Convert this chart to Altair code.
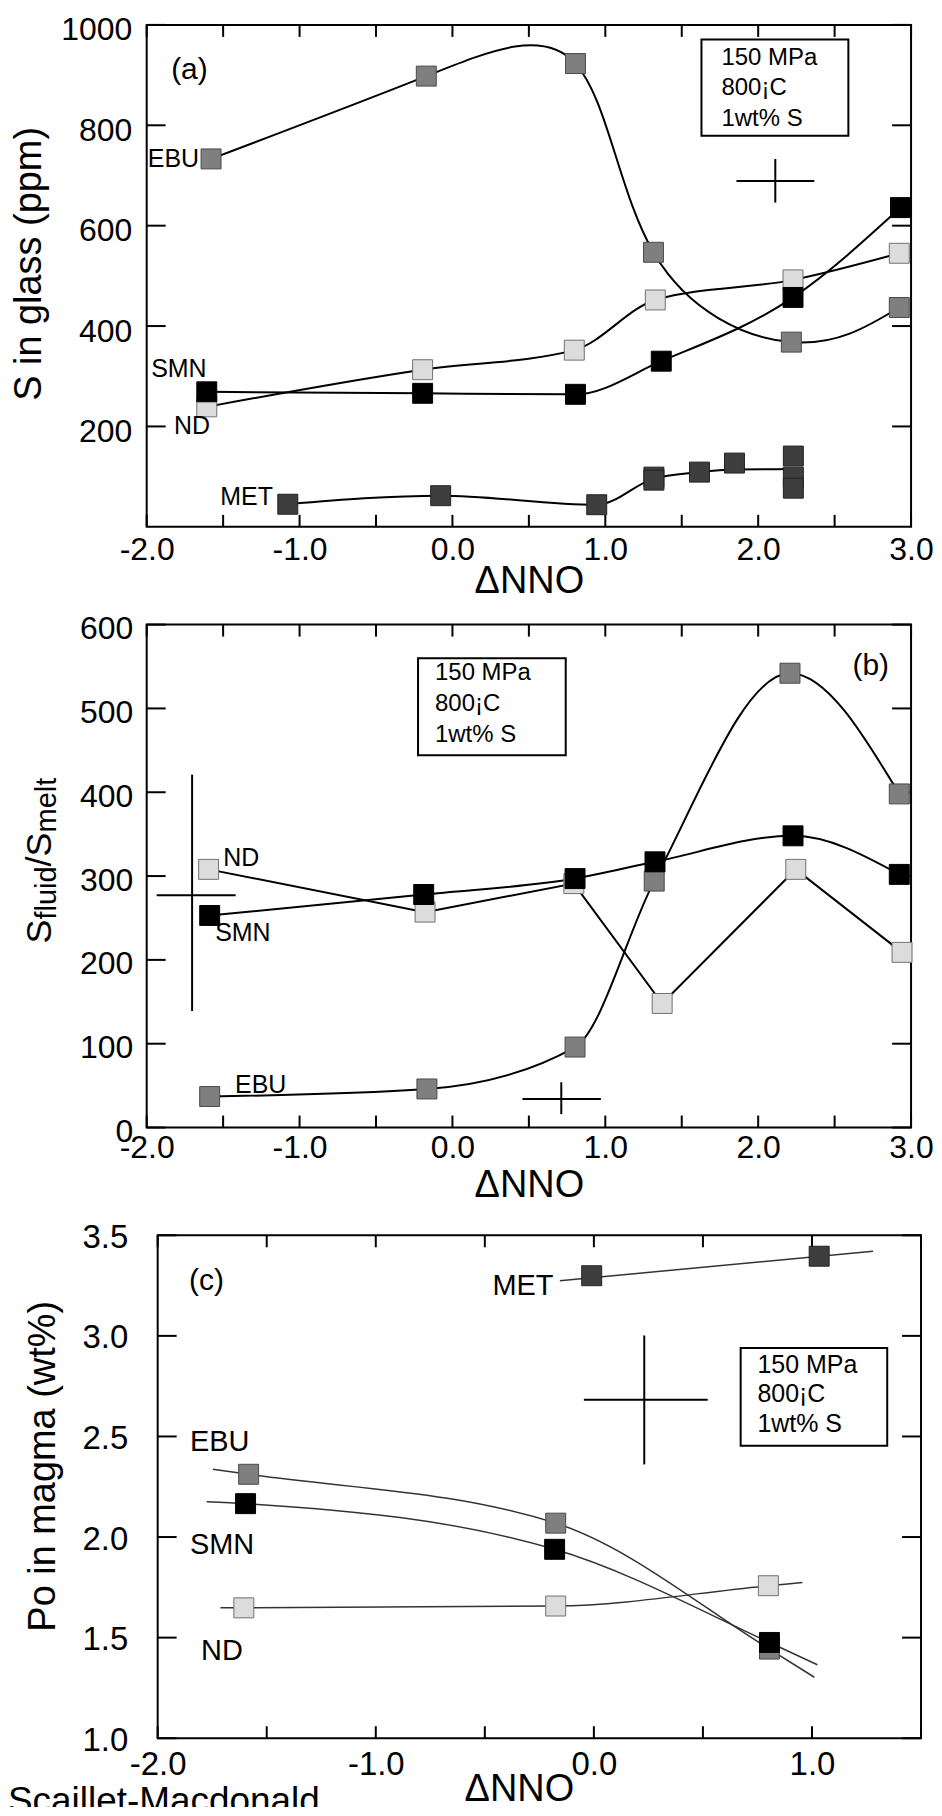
import altair as alt
import pandas as pd

FONT = "Liberation Sans"

# ---------------- Panel (a): S in glass (ppm) ----------------
a_ebu_x = [-1.579, -0.171, 0.805, 1.315, 2.217, 2.923]
a_ebu_y = [733, 898, 923, 547, 368, 437]
a_smn_x = [-1.607, -0.195, 0.805, 1.366, 2.228, 2.931]
a_smn_y = [269, 266, 264, 330, 457, 636]
a_nd_x = [-1.607, -0.195, 0.797, 1.327, 2.228, 2.923]
a_nd_y = [239, 313, 352, 452, 492, 545]
a_met_x = [-1.077, -0.077, 0.944, 1.318, 1.318, 1.616, 1.845, 2.230, 2.230, 2.230]
a_met_y = [45, 62, 44, 99, 93, 109, 127, 141, 99, 77]
a_met_curve_x = [-1.077, -0.077, 0.944, 1.318, 1.616, 1.845, 2.230]
a_met_curve_y = [45, 62, 44, 96, 109, 114, 115]
a_err = dict(cx=[2.112], cy=[689], x1=[1.858], x2=[2.367], y1=[646], y2=[733])
a_box = dict(x1=[1.629], x2=[2.590], y1=[779], y2=[971])
a_box_text_x = 1.760
a_box_text_y = [934, 874, 813]
a_label_text = ["EBU", "SMN", "ND", "MET", "(a)"]
a_label_x = [-1.993, -1.971, -1.821, -1.519, -1.840]
a_label_y = [733, 314, 200, 60, 910]

# ---------------- Panel (b): Sfluid/Smelt ----------------
b_ebu_x = [-1.588, -0.167, 0.802, 1.320, 2.208, 2.923]
b_ebu_y = [37, 46, 96, 294, 542, 398]
b_smn_x = [-1.588, -0.188, 0.802, 1.325, 2.228, 2.923]
b_smn_y = [253, 278, 297, 317, 348, 302]
b_nd_x = [-1.595, -0.179, 0.794, 1.372, 2.246, 2.941]
b_nd_y = [308, 257, 291, 148, 308, 209]
b_err = dict(cx=[-1.703, 0.712], cy=[277, 34], x1=[-1.935, 0.458], x2=[-1.418, 0.971],
             y1=[139, 16], y2=[421, 54])
b_box = dict(x1=[-0.225], x2=[0.741], y1=[444], y2=[560])
b_box_text_x = -0.114
b_box_text_y = [542, 505, 468]
b_label_text = ["ND", "SMN", "EBU", "(b)"]
b_label_x = [-1.500, -1.552, -1.422, 2.617]
b_label_y = [321, 232, 51, 551]

# ---------------- Panel (c): Po in magma (wt%) ----------------
c_ebu_x = [-1.583, -0.175, 0.805]
c_ebu_y = [2.312, 2.069, 1.443]
c_smn_x = [-1.597, -0.180, 0.805]
c_smn_y = [2.166, 1.939, 1.476]
c_nd_x = [-1.605, -0.175, 0.800]
c_nd_y = [1.648, 1.657, 1.758]
c_met_x = [-0.010, 1.033]
c_met_y = [3.299, 3.396]
c_ebu_curve_x = [-1.747, -1.583, -0.175, 0.805, 1.011]
c_ebu_curve_y = [2.337, 2.312, 2.069, 1.443, 1.303]
c_smn_curve_x = [-1.775, -1.597, -0.180, 0.805, 1.025]
c_smn_curve_y = [2.176, 2.166, 1.939, 1.476, 1.365]
c_nd_curve_x = [-1.712, -1.605, -0.175, 0.800, 0.956]
c_nd_curve_y = [1.648, 1.648, 1.657, 1.758, 1.774]
c_met_curve_x = [-0.156, 1.280]
c_met_curve_y = [3.274, 3.421]
c_err = dict(cx=[0.231], cy=[2.683], x1=[-0.046], x2=[0.522], y1=[2.361], y2=[3.002])
c_box = dict(x1=[0.673], x2=[1.345], y1=[2.454], y2=[2.940])
c_box_text_x = 0.750
c_box_text_y = [2.857, 2.709, 2.560]
c_label_text = ["MET", "EBU", "SMN", "ND", "(c)"]
c_label_x = [-0.465, -1.852, -1.852, -1.801, -1.856]
c_label_y = [3.250, 2.471, 1.962, 1.433, 3.275]

box_lines = ["150 MPa", "800¡C", "1wt% S"]

ORDER = ["MET", "EBU", "ND", "SMN"]
FILL = {"MET": "#3e3e3e", "EBU": "#7f7f7f", "ND": "#dcdcdc", "SMN": "#000000"}
EDGE = {"MET": "#222222", "EBU": "#4a4a4a", "ND": "#707070", "SMN": "#000000"}


def points_df(series):
    rows = []
    for name in ORDER:
        if name in series:
            xs, ys = series[name]
            for xv, yv in zip(xs, ys):
                rows.append({"x": xv, "y": yv, "s": name})
    return pd.DataFrame(rows)


def build_panel(w, h, x0, xdom, ydom, xticks, yticks, xaxis_kw, yaxis_kw,
                pts, lines, err, box, box_tx, box_ty, box_fs,
                labels, label_fs, tag_fs, line_color, line_w, err_w,
                anchor, extra=()):
    sx = alt.Scale(domain=xdom, range=[x0, w], nice=False, zero=False)
    sy = alt.Scale(domain=ydom, nice=False, zero=False)
    XA = alt.Axis(values=xticks, ticks=False, domain=False, grid=False,
                  labelFlush=False, labelOverlap=False, labelFont=FONT, labelColor="black",
                  labelExpr="datum.value % 1 === 0 ? (datum.value < 0 ? '-' : '') + format(abs(datum.value), '.1f') : ''",
                  titleFont=FONT, titleFontWeight="normal", titleColor="black",
                  titleBaseline="alphabetic", title="ΔNNO", **xaxis_kw)
    YA = alt.Axis(values=yticks, ticks=False, domain=False, grid=False,
                  labelOverlap=False, labelFont=FONT, labelColor="black",
                  titleFont=FONT, titleFontWeight="normal", titleColor="black", **yaxis_kw)

    def X(f):
        return alt.X(f, type="quantitative", scale=sx, axis=XA)

    def Y(f):
        return alt.Y(f, type="quantitative", scale=sy, axis=YA)

    one = pd.DataFrame({"k": [0]})
    layers = []
    L, T, B = anchor
    # invisible layout anchor fixing the panel's outer extent
    layers.append(alt.Chart(one).mark_rule(opacity=0, strokeWidth=1).encode(
        x=alt.value(-L), y=alt.value(-T), y2=alt.value(h + B)))
    # frame
    layers.append(alt.Chart(one).mark_rect(fillOpacity=0, stroke="black", strokeWidth=2).encode(
        x=alt.value(x0), x2=alt.value(w), y=alt.value(0), y2=alt.value(h)))
    # inward ticks on all four sides
    tx = pd.DataFrame({"v": xticks})
    ty = pd.DataFrame({"v": yticks})
    layers.append(alt.Chart(tx).mark_rule(color="black", strokeWidth=2).encode(
        x=X("v"), y=alt.value(h), y2=alt.value(h - 12)))
    layers.append(alt.Chart(tx).mark_rule(color="black", strokeWidth=2).encode(
        x=X("v"), y=alt.value(0), y2=alt.value(12)))
    layers.append(alt.Chart(ty).mark_rule(color="black", strokeWidth=2).encode(
        y=Y("v"), x=alt.value(x0), x2=alt.value(x0 + 19)))
    layers.append(alt.Chart(ty).mark_rule(color="black", strokeWidth=2).encode(
        y=Y("v"), x=alt.value(w), x2=alt.value(w - 19)))
    for xs, ys, interp in lines:
        df = pd.DataFrame({"x": xs, "y": ys})
        layers.append(alt.Chart(df).mark_line(interpolate=interp, color=line_color,
                                              strokeWidth=line_w).encode(x=X("x"), y=Y("y")))
    edf = pd.DataFrame(err)
    layers.append(alt.Chart(edf).mark_rule(color="black", strokeWidth=err_w).encode(
        x=X("x1"), x2="x2", y=Y("cy")))
    layers.append(alt.Chart(edf).mark_rule(color="black", strokeWidth=err_w).encode(
        x=X("cx"), y=Y("y1"), y2="y2"))
    layers.append(alt.Chart(pd.DataFrame(box)).mark_rect(
        fill="white", stroke="black", strokeWidth=2).encode(
        x=X("x1"), x2="x2", y=Y("y1"), y2="y2"))
    tdf = pd.DataFrame({"t": box_lines, "x": [box_tx] * 3, "y": box_ty})
    layers.append(alt.Chart(tdf).mark_text(align="left", baseline="middle", font=FONT,
                                           fontSize=box_fs, color="black").encode(
        x=X("x"), y=Y("y"), text="t:N"))
    pdf = points_df(pts)
    layers.append(alt.Chart(pdf).mark_square(size=400, strokeWidth=1, opacity=1).encode(
        x=X("x"), y=Y("y"),
        fill=alt.Fill("s:N", scale=alt.Scale(domain=ORDER, range=[FILL[k] for k in ORDER]), legend=None),
        stroke=alt.Stroke("s:N", scale=alt.Scale(domain=ORDER, range=[EDGE[k] for k in ORDER]), legend=None)))
    ltext, lx, ly = labels
    ldf = pd.DataFrame({"t": ltext[:-1], "x": lx[:-1], "y": ly[:-1]})
    layers.append(alt.Chart(ldf).mark_text(align="left", baseline="middle", font=FONT,
                                           fontSize=label_fs, color="black").encode(
        x=X("x"), y=Y("y"), text="t:N"))
    gdf = pd.DataFrame({"t": ltext[-1:], "x": lx[-1:], "y": ly[-1:]})
    layers.append(alt.Chart(gdf).mark_text(align="left", baseline="middle", font=FONT,
                                           fontSize=tag_fs, color="black").encode(
        x=X("x"), y=Y("y"), text="t:N"))
    layers.extend(extra)
    return alt.layer(*layers).properties(width=w, height=h)


xt_ab = [-2.0, -1.5, -1.0, -0.5, 0.0, 0.5, 1.0, 1.5, 2.0, 2.5, 3.0]
xt_c = [-2.0, -1.5, -1.0, -0.5, 0.0, 0.5, 1.0, 1.5]

pa = build_panel(
    766, 503, 0, [-2, 3], [0, 1000], xt_ab, [200, 400, 600, 800, 1000],
    dict(labelFontSize=32, labelPadding=8, titleFontSize=38, titleY=66),
    dict(labelFontSize=32, labelPadding=15, labelOffset=5, format="d",
         title="S in glass (ppm)", titleFontSize=38, titleAngle=270,
         titleBaseline="alphabetic", titleX=-106.8, titleY=239),
    {"MET": (a_met_x, a_met_y), "EBU": (a_ebu_x, a_ebu_y),
     "ND": (a_nd_x, a_nd_y), "SMN": (a_smn_x, a_smn_y)},
    [(a_ebu_x, a_ebu_y, "natural"), (a_smn_x, a_smn_y, "monotone"),
     (a_nd_x, a_nd_y, "monotone"), (a_met_curve_x, a_met_curve_y, "monotone")],
    a_err, a_box, a_box_text_x, a_box_text_y, 24,
    (a_label_text, a_label_x, a_label_y), 25, 30, "black", 2, 2,
    (139, 15, 81))

one = pd.DataFrame({"k": [0]})
b_title = [
    alt.Chart(one).mark_text(text="S", angle=270, align="left", baseline="alphabetic",
                             font=FONT, fontSize=36, color="black").encode(
        x=alt.value(-96), y=alt.value(319.5)),
    alt.Chart(one).mark_text(text="fluid", angle=270, align="left", baseline="alphabetic",
                             font=FONT, fontSize=29, color="black").encode(
        x=alt.value(-91), y=alt.value(295.5)),
    alt.Chart(one).mark_text(text="/S", angle=270, align="left", baseline="alphabetic",
                             font=FONT, fontSize=36, color="black").encode(
        x=alt.value(-96), y=alt.value(242.3)),
    alt.Chart(one).mark_text(text="melt", angle=270, align="left", baseline="alphabetic",
                             font=FONT, fontSize=29, color="black").encode(
        x=alt.value(-91), y=alt.value(208.3)),
]

pb = build_panel(
    766, 504, 0, [-2, 3], [0, 600], xt_ab, [0, 100, 200, 300, 400, 500, 600],
    dict(labelFontSize=32, labelPadding=5, titleFontSize=38, titleY=69),
    dict(labelFontSize=32, labelPadding=14, labelOffset=4, format="d", title=None),
    {"EBU": (b_ebu_x, b_ebu_y), "ND": (b_nd_x, b_nd_y), "SMN": (b_smn_x, b_smn_y)},
    [(b_ebu_x, b_ebu_y, "monotone"), (b_smn_x, b_smn_y, "monotone"),
     (b_nd_x, b_nd_y, "linear")],
    b_err, b_box, b_box_text_x, b_box_text_y, 24,
    (b_label_text, b_label_x, b_label_y), 25, 30, "black", 2, 2,
    (139, 17, 90), extra=b_title)

credit = alt.Chart(one).mark_text(text="Scaillet-Macdonald", align="left",
                                  baseline="alphabetic", font=FONT, fontSize=37,
                                  color="black").encode(x=alt.value(-139), y=alt.value(578.5))

pc = build_panel(
    776, 504, 11, [-2, 1.5], [1.0, 3.5], xt_c, [1.0, 1.5, 2.0, 2.5, 3.0, 3.5],
    dict(labelFontSize=33, labelPadding=10, titleFontSize=38, titleY=62, titleX=373),
    dict(labelFontSize=33, labelPadding=19, labelOffset=2, format=".1f",
         title="Po in magma (wt%)", titleFontSize=38, titleAngle=270,
         titleBaseline="alphabetic", titleX=-92.8, titleY=231),
    {"MET": (c_met_x, c_met_y), "EBU": (c_ebu_x, c_ebu_y),
     "ND": (c_nd_x, c_nd_y), "SMN": (c_smn_x, c_smn_y)},
    [(c_ebu_curve_x, c_ebu_curve_y, "monotone"), (c_smn_curve_x, c_smn_curve_y, "monotone"),
     (c_nd_curve_x, c_nd_curve_y, "monotone"), (c_met_curve_x, c_met_curve_y, "linear")],
    c_err, c_box, c_box_text_x, c_box_text_y, 25,
    (c_label_text, c_label_x, c_label_y), 29, 30, "#333333", 1.5, 2,
    (139, 18, 0), extra=[credit])

chart = alt.concat(pa, pb, pc, columns=1, spacing=0, bounds="full").configure_view(
    strokeWidth=0).properties(
    padding={"left": 0, "top": 0, "right": 0, "bottom": -15})

chart.save("out.html", embed_options={"renderer": "svg", "actions": False})
